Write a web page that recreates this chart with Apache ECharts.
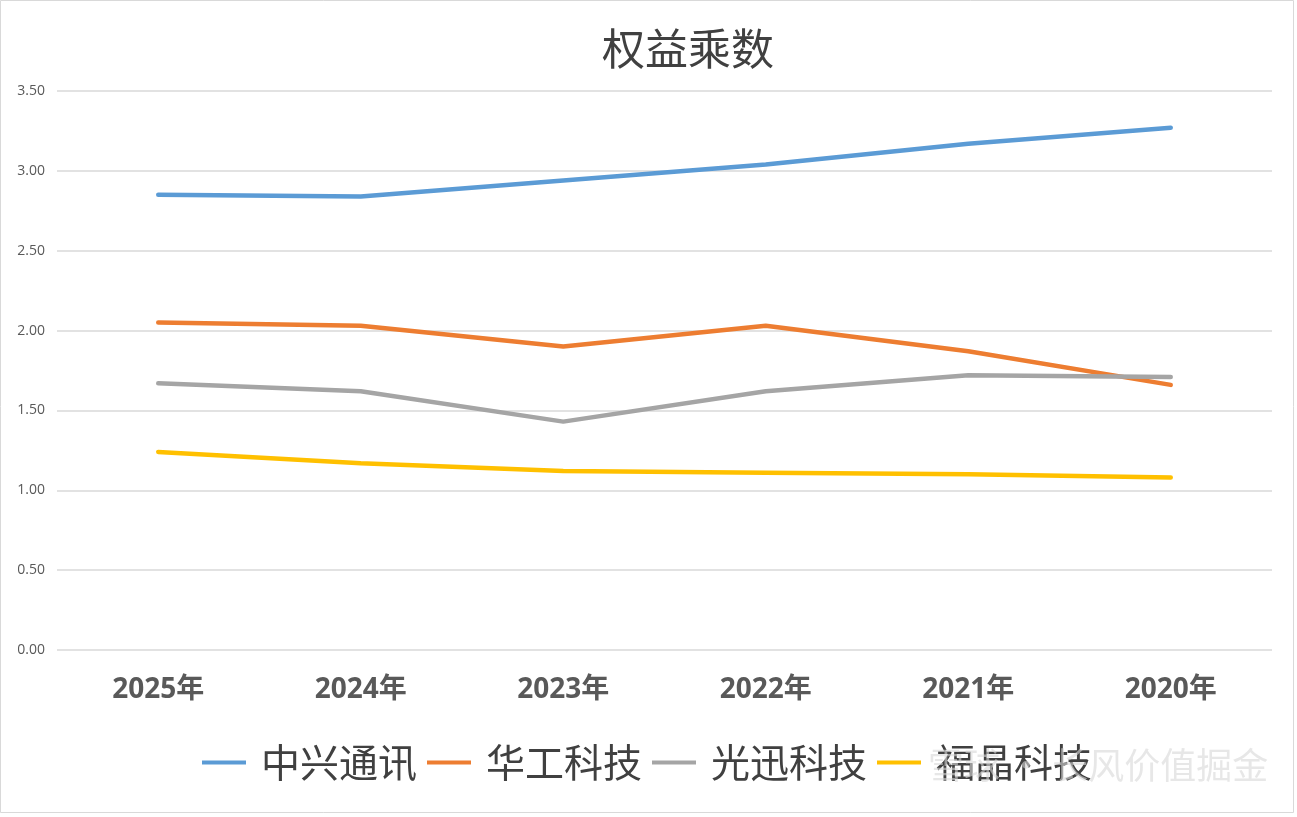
<!DOCTYPE html>
<html>
<head>
<meta charset="utf-8">
<script src="https://cdn.jsdelivr.net/npm/echarts@6/dist/echarts.min.js"></script>
<style>html,body{margin:0;padding:0;background:#fff;}#c{width:1297px;height:817px;}</style>
</head>
<body>
<div id="c"></div>
<script>
const categories = ['2025年','2024年','2023年','2022年','2021年','2020年'];
const zte = [2.85, 2.84, 2.94, 3.04, 3.17, 3.27];
const hgtech = [2.05, 2.03, 1.90, 2.03, 1.87, 1.66];
const gxtech = [1.67, 1.62, 1.43, 1.62, 1.72, 1.71];
const tfc = [1.24, 1.17, 1.12, 1.11, 1.10, 1.08];
const yTicks = [0, 0.5, 1, 1.5, 2, 2.5, 3, 3.5];
const names = ['中兴通讯','华工科技','光迅科技','福晶科技'];
const colors = ['#5b9bd5','#ed7d31','#a5a5a5','#ffc000'];
const seriesData = [zte, hgtech, gxtech, tfc];

const chart = echarts.init(document.getElementById('c'));
chart.setOption({
  backgroundColor: '#fff',
  animation: false,
  title: {
    text: '权益乘数', left: 597, top: 22,
    textStyle: {fontFamily: 'Noto Sans CJK SC', fontSize: 43, fontWeight: 'normal', color: '#404040'}
  },
  legend: {
    data: names, top: 738, left: 197, itemWidth: 44, itemHeight: 4, itemGap: 10,
    icon: 'rect',
    textStyle: {fontFamily: 'Noto Sans CJK SC', fontSize: 39, color: '#404040', padding: [0, 0, 0, 10]}
  },
  grid: {left: 57, right: 25, top: 91, bottom: 167, containLabel: false},
  xAxis: {
    type: 'category', data: categories, boundaryGap: true,
    axisLine: {show: false}, axisTick: {show: false},
    axisLabel: {fontFamily: 'Open Sans, Noto Sans CJK SC', fontSize: 28, fontWeight: 'bold', color: '#595959', margin: 26}
  },
  yAxis: {
    type: 'value', min: yTicks[0], max: yTicks[yTicks.length-1], interval: 0.5,
    axisLine: {show: false}, axisTick: {show: false},
    axisLabel: {fontFamily: 'Open Sans', fontSize: 14, color: '#595959', margin: 12, formatter: v => v.toFixed(2)},
    splitLine: {lineStyle: {color: '#d9d9d9', width: 1.5}}
  },
  series: seriesData.map((d, i) => ({
    name: names[i], type: 'line', data: d, symbol: 'none',
    lineStyle: {color: colors[i], width: 4.5, cap: 'round'},
    itemStyle: {color: colors[i]}
  })),
  graphic: [
    {type: 'rect', shape: {x: 0.5, y: 0.5, width: 1293, height: 812}, style: {fill: 'none', stroke: '#d9d9d9', lineWidth: 1}},
    {type: 'text', left: 928, top: 747, z: 100, style: {text: '雪球 · 长风价值掘金', fontFamily: 'Noto Sans CJK SC', fontSize: 36, fill: 'rgba(215,215,215,0.6)'}}
  ]
});
</script>
</body>
</html>
